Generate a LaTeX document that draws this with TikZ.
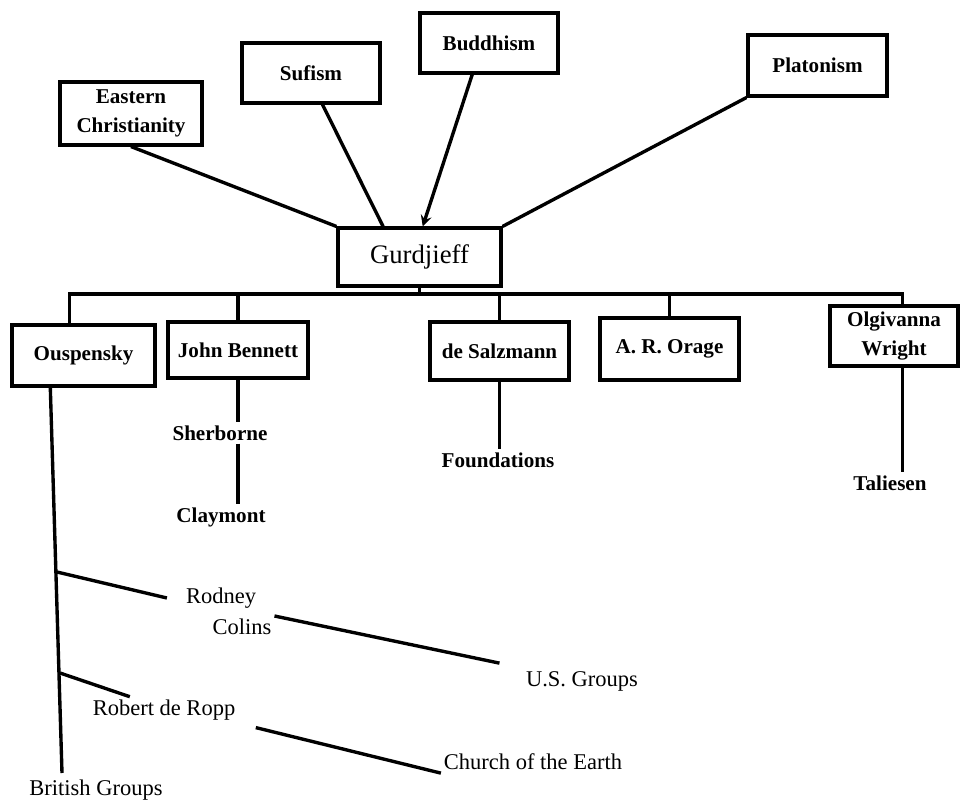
\documentclass[tikz,border=0pt]{standalone}
\usepackage{fontspec}
\setmainfont{Liberation Serif}
\usetikzlibrary{calc}

\begin{document}
\begin{tikzpicture}[x=0.025cm, y=-0.025cm,
	box/.style={draw, line width=2.2pt, inner sep=0pt, align=center, font=\fontsize{15}{20.5}\selectfont\bfseries},
	lbl/.style={inner sep=2pt, font=\fontsize{15}{20}\selectfont\bfseries},
	txt/.style={inner sep=2pt, font=\fontsize{16}{21}\selectfont},
	link/.style={line width=2.4pt}]
	
	\useasboundingbox (0,0) rectangle (960,800);
	
	% sources
	\node[box, minimum width=3.55cm, minimum height=1.575cm] (eastern) at (131,113.5) {Eastern\\Christianity};
	\node[box, minimum width=3.45cm, minimum height=1.5cm] (sufism) at (311,73) {Sufism};
	\node[box, minimum width=3.45cm, minimum height=1.5cm] (buddhism) at (489,43) {Buddhism};
	\node[box, minimum width=3.475cm, minimum height=1.525cm] (platonism) at (817.5,65.5) {Platonism};
	
	\node[box, minimum width=4.075cm, minimum height=1.45cm, font=\fontsize{19}{22}\selectfont] (gurdjieff) at (419.5,257) {Gurdjieff};
	
	\draw[link] (eastern.south) -- (gurdjieff.north west);
	\draw[link] (sufism.290) -- (gurdjieff.140);
	\draw[link, ->, >=stealth] (buddhism.242) -- (gurdjieff.84);
	\draw[link] (platonism.south west) -- (gurdjieff.north east);
	
	% pupils
	\node[box, minimum width=3.575cm, minimum height=1.525cm] (ouspensky) at (83.5,355.5) {Ouspensky};
	\node[box, minimum width=3.5cm, minimum height=1.4cm] (bennett) at (238,350) {John Bennett};
	\node[box, minimum width=3.475cm, minimum height=1.45cm] (salzmann) at (499.5,351) {de Salzmann};
	\node[box, minimum width=3.475cm, minimum height=1.55cm] (orage) at (669.5,349) {A. R. Orage};
	\node[box, minimum width=3.2cm, minimum height=1.5cm] (olgivanna) at (894,336) {Olgivanna\\Wright};
	
	\coordinate (bus) at (419.5,294);
	\draw[link] (gurdjieff.south) -- (bus);
	\draw[link] (ouspensky.114) |- (bus) -| (olgivanna.75);
	\foreach \n in {bennett, salzmann, orage}
		\draw[link] (\n.north) -- (\n.north |- bus);
	
	% groups
	\node[lbl] (sherborne) at (220,433) {Sherborne};
	\node[lbl] (claymont) at (221,517) {Claymont};
	\node[lbl] (foundations) at (498,460) {Foundations};
	\node[lbl] (taliesen) at (890,483) {Taliesen};
	
	\draw[link] (bennett.south) -- (bennett.south |- sherborne.north);
	\draw[link] (bennett.south |- sherborne.south) -- (bennett.south |- claymont.north);
	\draw[link] (salzmann.south) -- (salzmann.south |- foundations.north);
	\draw[link] (olgivanna.285) -- (olgivanna.285 |- taliesen.north);
	
	% Ouspensky line
	\node[txt] (rodney) at (221,598) {Rodney};
	\node[txt] (colins) at (242,627) {Colins};
	\node[txt] (usgroups) at (582,681) {U.S. Groups};
	\node[txt] (deropp) at (164,710) {Robert de Ropp};
	\node[txt] (church) at (533,762) {Church of the Earth};
	\node[txt] (british) at (96,790) {British Groups};
	
	\coordinate (ousfoot) at (62,773);
	\coordinate (forkrodney) at (57,572);
	\coordinate (forkropp) at (60,673);
	
	\draw[link] (ouspensky.224) -- (ousfoot);
	\draw[link] (forkrodney) -- ([xshift=-0.4cm]rodney.west);
	\draw[link, shorten >=0.6cm] (colins.north east) -- (usgroups.north west);
	\draw[link] (forkropp) -- ($(deropp.north west)!0.27!(deropp.north east)$);
	\draw[link, shorten <=0.45cm] (deropp.south east) -- (church.south west);
	
\end{tikzpicture}
\end{document}
